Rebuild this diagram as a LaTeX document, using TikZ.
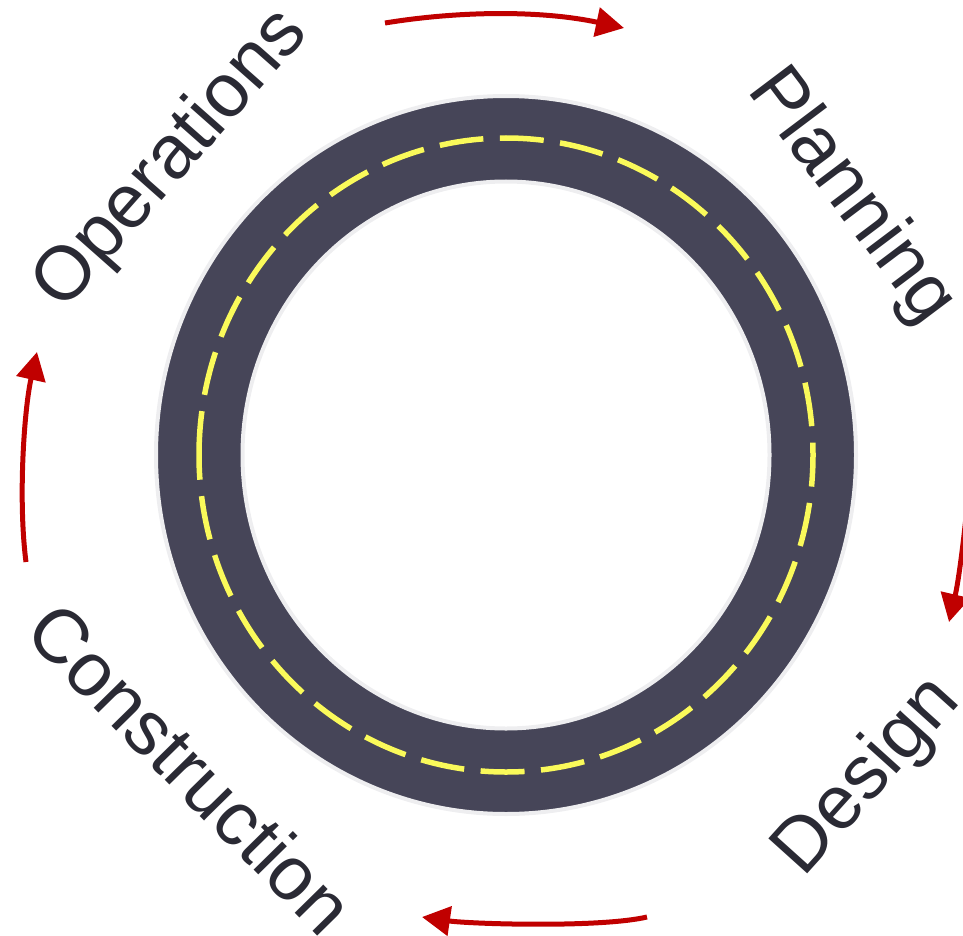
\documentclass[tikz,border=0pt]{standalone}
\usepackage{fontspec}
\setmainfont{Liberation Sans}
\usetikzlibrary{arrows.meta}
\definecolor{road}{RGB}{70,69,88}
\definecolor{roadedge}{RGB}{238,238,240}
\definecolor{lane}{RGB}{250,250,90}
\definecolor{labeltext}{RGB}{42,42,52}
\definecolor{cyclered}{RGB}{192,0,0}
\tikzset{
  phase/.style={font=\fontsize{76}{80}\selectfont, text=labeltext, inner sep=0pt, anchor=center},
  cyclearrow/.style={draw=cyclered, line width=5pt, -{Triangle[length=28pt,width=29pt]}},
}
\begin{document}
\begin{tikzpicture}[x=1pt,y=-1pt]
\useasboundingbox (0,0) rectangle (963,936);
\clip (0,0) rectangle (963,936);
\coordinate (c) at (506,455);
% road ring
\path[fill=road, draw=roadedge, line width=4pt, even odd rule]
  (c) ellipse [x radius=350, y radius=359]
  (c) ellipse [x radius=263.5, y radius=273.5];
% lane markings
\coordinate (laneStart) at (199,455);
\draw[lane, line width=5.5pt, dash pattern=on 44pt off 16.5pt]
  (laneStart) arc[start angle=180, end angle=540, x radius=307, y radius=317];
% labels
\node[phase, rotate=48.5] (ops) at (172,160) {Operations};
\node[phase, rotate=-53] (plan) at (851,197) {Planning};
\node[phase, rotate=48] (des) at (868,777) {Design};
\node[phase, rotate=-45.5] (cons) at (191,768) {Construction};
% arrows
\coordinate (topA) at (385,23);
\coordinate (topB) at (624,28);
\coordinate (rightA) at (972,420);
\coordinate (rightB) at (949,622);
\coordinate (botA) at (647,917);
\coordinate (botB) at (422,917);
\coordinate (leftA) at (26,562);
\coordinate (leftB) at (37,352);
\draw[cyclearrow] (topA) .. controls (465,10) and (545,11) .. (topB);
\draw[cyclearrow] (rightA) .. controls (972,480) and (960,575) .. (rightB);
\draw[cyclearrow] (botA) .. controls (600,928) and (470,924) .. (botB);
\draw[cyclearrow] (leftA) .. controls (18,500) and (24,410) .. (leftB);
\end{tikzpicture}
\end{document}
